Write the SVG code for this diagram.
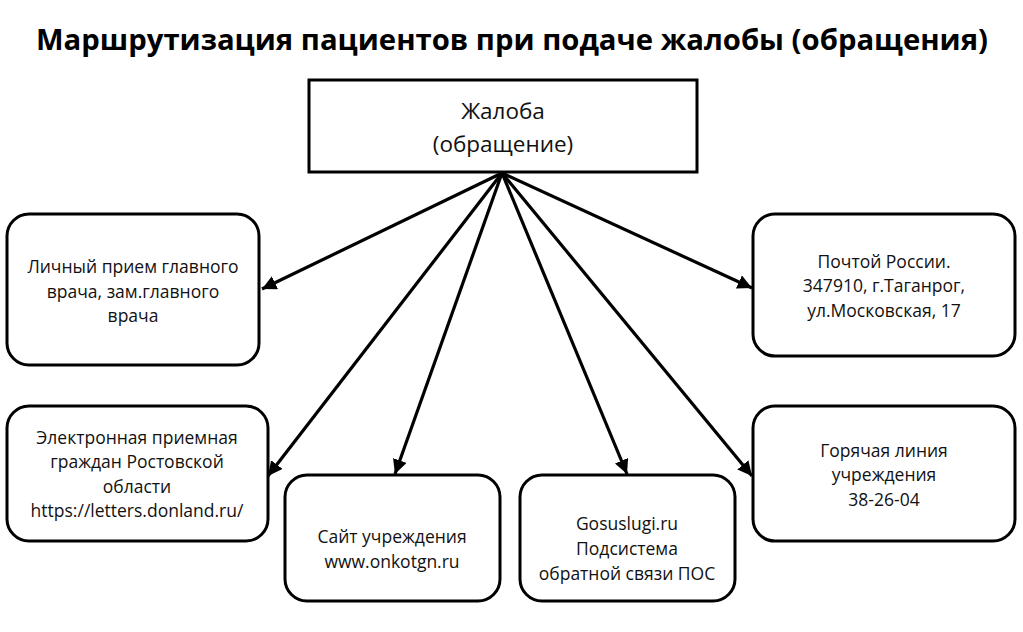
<svg xmlns="http://www.w3.org/2000/svg" width="1023" height="632" viewBox="0 0 1023 632">
<defs>
<marker id="ah" viewBox="0 0 10 10" refX="10" refY="5" markerWidth="4.5" markerHeight="4.5" orient="auto" markerUnits="strokeWidth">
<path d="M0,0 L10,5 L0,10 z" fill="#000"/>
</marker>
</defs>
<style>
.box{fill:#fff;stroke:#000;stroke-width:3}
.t{font-family:"Open Sans","Noto Sans","DejaVu Sans",sans-serif;font-size:17.5px;fill:#111;text-anchor:middle}
.title{font-family:"Open Sans","Noto Sans","DejaVu Sans",sans-serif;font-size:28.5px;font-weight:bold;fill:#000}
.c{stroke:#000;stroke-width:3.2;fill:none;marker-end:url(#ah)}
</style>
<rect width="1023" height="632" fill="#fff"/>
<text class="title" x="36" y="50" textLength="952" lengthAdjust="spacingAndGlyphs">Маршрутизация пациентов при подаче жалобы (обращения)</text>
<g id="connectors">
<line class="c" x1="502" y1="173" x2="262" y2="289"/>
<line class="c" x1="502" y1="173" x2="268" y2="476"/>
<line class="c" x1="502" y1="173" x2="395" y2="474"/>
<line class="c" x1="502" y1="173" x2="627" y2="474"/>
<line class="c" x1="502" y1="173" x2="752" y2="476"/>
<line class="c" x1="502" y1="173" x2="752" y2="288"/>
</g>
<g id="n-main">
<rect class="box" x="309" y="80" width="388" height="92"/>
<text class="t" x="503" y="119" style="font-size:22.5px">Жалоба</text>
<text class="t" x="503" y="152" style="font-size:22.5px">(обращение)</text>
</g>
<g id="n-personal">
<rect class="box" x="7" y="214" width="252" height="151" rx="22"/>
<text class="t" x="133" y="273">Личный прием главного</text>
<text class="t" x="133" y="298">врача, зам.главного</text>
<text class="t" x="133" y="322">врача</text>
</g>
<g id="n-electronic">
<rect class="box" x="7" y="406" width="261" height="135" rx="22"/>
<text class="t" x="137" y="444">Электронная приемная</text>
<text class="t" x="137" y="468">граждан Ростовской</text>
<text class="t" x="137" y="493">области</text>
<text class="t" x="137" y="517">https://letters.donland.ru/</text>
</g>
<g id="n-site">
<rect class="box" x="285" y="475" width="215" height="126" rx="22"/>
<text class="t" x="392" y="543">Сайт учреждения</text>
<text class="t" x="392" y="568">www.onkotgn.ru</text>
</g>
<g id="n-gosuslugi">
<rect class="box" x="520" y="475" width="215" height="126" rx="22"/>
<text class="t" x="627" y="530">Gosuslugi.ru</text>
<text class="t" x="627" y="555">Подсистема</text>
<text class="t" x="627" y="580">обратной связи ПОС</text>
</g>
<g id="n-post">
<rect class="box" x="753" y="214" width="262" height="142" rx="22"/>
<text class="t" x="884" y="268">Почтой России.</text>
<text class="t" x="884" y="292">347910, г.Таганрог,</text>
<text class="t" x="884" y="317">ул.Московская, 17</text>
</g>
<g id="n-hotline">
<rect class="box" x="753" y="406" width="262" height="135" rx="22"/>
<text class="t" x="884" y="457">Горячая линия</text>
<text class="t" x="884" y="481">учреждения</text>
<text class="t" x="884" y="506">38-26-04</text>
</g>
</svg>
